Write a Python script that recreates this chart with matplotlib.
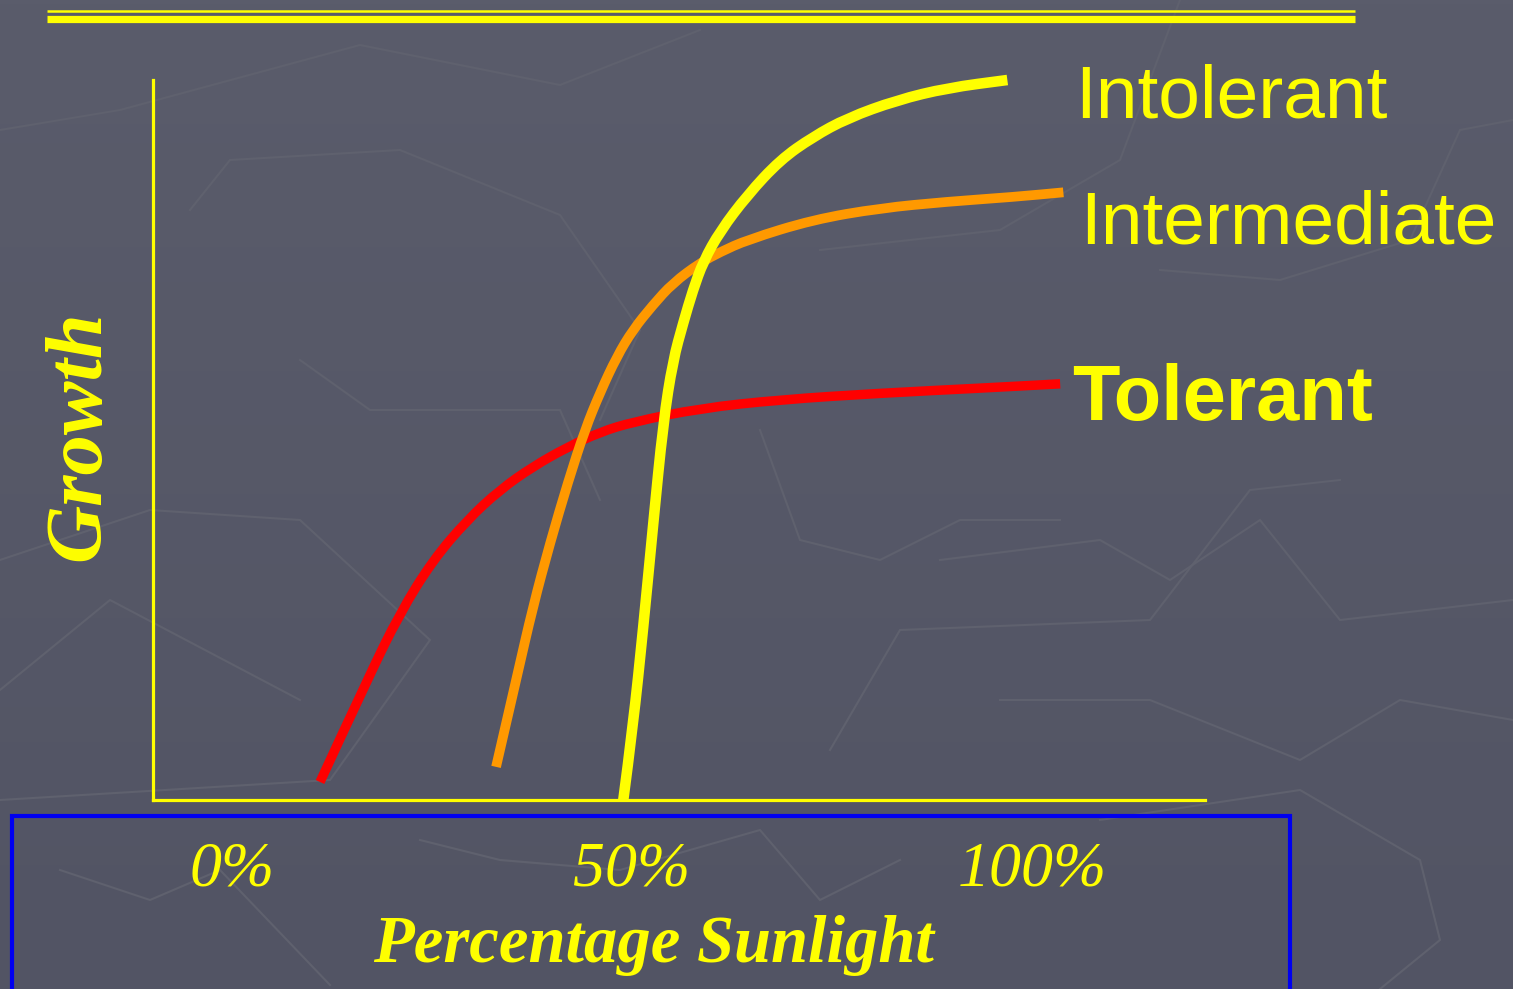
import numpy as np
import matplotlib
matplotlib.use("Agg")
import matplotlib.pyplot as plt
from matplotlib.lines import Line2D
from matplotlib.patches import Rectangle, PathPatch
from matplotlib.path import Path

# ---- data: percentage sunlight (x) vs relative growth (y) ----
tolerant_x = [11.0, 16.9, 21.0, 25.1, 29.4, 33.5, 37.6, 41.9, 46.0, 50.1, 58.5, 68.5, 81.0, 93.5, 103.5]
tolerant_y = [2.5, 16.7, 26.0, 33.3, 38.9, 43.1, 46.3, 49.0, 51.1, 52.5, 54.4, 55.6, 56.5, 57.2, 57.8]

intermediate_x = [33.0, 35.6, 37.6, 39.75, 42.0, 44.1, 46.0, 48.1, 50.1, 52.6, 55.1, 58.5, 61.0, 64.4,
                  72.6, 81.0, 89.4, 97.6, 103.9]
intermediate_y = [4.6, 17.1, 26.8, 35.7, 44.2, 51.4, 56.6, 61.6, 65.3, 68.75, 71.8, 74.6, 76.1, 77.8,
                  80.6, 82.2, 83.1, 83.75, 84.4]

intolerant_x = [48.9, 50.1, 51.4, 52.6, 53.9, 55.1, 56.4, 57.6, 58.9, 61.0, 64.4, 68.5, 72.6, 76.9,
                83.1, 89.4, 96.9]
intolerant_y = [0.0, 10.1, 24.0, 37.9, 52.5, 61.0, 66.3, 70.8, 74.8, 79.0, 84.0, 88.9, 92.1, 94.7,
                97.2, 98.9, 100.0]

tick_values = [0, 50, 100]
tick_labels = ["0%", "50%", "100%"]
series_names = ["Intolerant", "Intermediate", "Tolerant"]

W, H = 1513, 989
YELLOW = "#ffff00"
BG_TOP = "#5a5c6b"
BG_BOT = "#525464"


def fx(px):
    return px / W


def fy(py):
    return 1 - py / H


def smooth_path(xs, ys):
    """Quadratic Bezier path that uses the readings as control points."""
    pts = list(zip(xs, ys))
    verts = [pts[0]]
    codes = [Path.MOVETO]
    for i in range(1, len(pts) - 1):
        mid = ((pts[i][0] + pts[i + 1][0]) / 2, (pts[i][1] + pts[i + 1][1]) / 2)
        verts += [pts[i], mid]
        codes += [Path.CURVE3, Path.CURVE3]
    verts.append(pts[-1])
    codes.append(Path.LINETO)
    return Path(verts, codes)


fig = plt.figure(figsize=(W / 100, H / 100), dpi=100)
fig.patch.set_facecolor(BG_TOP)

# background gradient
bg = fig.add_axes([0, 0, 1, 1], zorder=-10)
bg.set_axis_off()
top = np.array(matplotlib.colors.to_rgb(BG_TOP))
bot = np.array(matplotlib.colors.to_rgb(BG_BOT))
t = np.linspace(0, 1, 256)[:, None, None]
grad = top * (1 - t) + bot * t
grad = np.repeat(grad, 2, axis=1)
bg.imshow(grad, aspect="auto", extent=[0, 1, 0, 1], origin="upper")
bg.set_xlim(0, 1)
bg.set_ylim(0, 1)

# faint decorative outline pattern
deco_color = "#5f616e"
deco_paths = [
    [(0, 130), (120, 110), (360, 45), (560, 85), (700, 30)],
    [(190, 210), (230, 160), (400, 150), (560, 215), (640, 330), (600, 420)],
    [(300, 360), (370, 410), (560, 410), (600, 500)],
    [(0, 560), (150, 510), (300, 520), (430, 640), (330, 780), (0, 800)],
    [(0, 690), (110, 600), (300, 700)],
    [(830, 750), (900, 630), (1150, 620), (1250, 490), (1340, 480)],
    [(820, 250), (1000, 230), (1120, 160), (1180, 0)],
    [(1160, 270), (1280, 280), (1410, 240), (1460, 130), (1513, 120)],
    [(1000, 700), (1150, 700), (1300, 760), (1400, 700), (1513, 720)],
    [(1100, 820), (1300, 790), (1420, 860), (1440, 940), (1380, 989)],
    [(940, 560), (1100, 540), (1170, 580), (1260, 520), (1340, 620), (1513, 600)],
    [(60, 870), (150, 900), (220, 870), (330, 985)],
    [(420, 840), (500, 860), (620, 870), (760, 830), (820, 900), (900, 860)],
    [(760, 430), (800, 540), (880, 560), (960, 520), (1060, 520)],
]
for path in deco_paths:
    xs = [fx(p[0]) for p in path]
    ys = [fy(p[1]) for p in path]
    bg.plot(xs, ys, color=deco_color, lw=1.5, solid_joinstyle="miter")

# double rule at the top
fig.add_artist(Line2D([fx(47), fx(1355)], [fy(11.3), fy(11.3)], color=YELLOW,
                      lw=1.8, solid_capstyle="butt"))
fig.add_artist(Line2D([fx(47), fx(1355)], [fy(18.5), fy(18.5)], color=YELLOW,
                      lw=5.2, solid_capstyle="butt"))

# blue frame around the x-axis caption
fig.add_artist(Rectangle((fx(12), fy(1000)), fx(1290) - fx(12), fy(816) - fy(1000),
                         fill=False, edgecolor="#0000f0", lw=3.0))

# main plotting area
ax = fig.add_axes([fx(153), fy(800), fx(1205) - fx(153), fy(80) - fy(800)])
ax.set_facecolor("none")
ax.set_xlim(-9.875, 121.6)
ax.set_ylim(0, 100)
for side in ["top", "right"]:
    ax.spines[side].set_visible(False)
for side in ["left", "bottom"]:
    ax.spines[side].set_color(YELLOW)
    ax.spines[side].set_linewidth(2.3)

series = [
    (tolerant_x, tolerant_y, "#ff0000", 6.8, 3),
    (intermediate_x, intermediate_y, "#ff9900", 7.0, 4),
    (intolerant_x, intolerant_y, YELLOW, 7.6, 5),
]
for xs, ys, color, lw, z in series:
    patch = PathPatch(smooth_path(xs, ys), fill=False, edgecolor=color, lw=lw,
                      capstyle="butt", joinstyle="round", zorder=z, clip_on=False)
    ax.add_patch(patch)

ax.set_yticks([])
ax.set_xticks(tick_values)
ax.set_xticklabels(tick_labels, family="Liberation Serif", style="italic",
                   fontsize=46, color=YELLOW)
ax.tick_params(axis="x", length=0, pad=30)

# axis captions
fig.text(fx(653), fy(962), "Percentage Sunlight", family="Liberation Serif",
         style="italic", weight="bold", fontsize=48, color=YELLOW,
         ha="center", va="baseline")
fig.text(fx(80), fy(436), "Growth", family="Liberation Serif",
         style="italic", weight="bold", fontsize=58, color=YELLOW,
         ha="center", va="center", rotation=90)

# series names at the right end of each curve
fig.text(fx(1075), fy(117), series_names[0], family="Liberation Sans",
         fontsize=54, color=YELLOW, ha="left", va="baseline")
fig.text(fx(1080), fy(244), series_names[1], family="Liberation Sans",
         fontsize=54, color=YELLOW, ha="left", va="baseline")
fig.text(fx(1072), fy(420), series_names[2], family="Liberation Sans",
         weight="bold", fontsize=56, color=YELLOW, ha="left", va="baseline")

fig.savefig("out.png", dpi=100, facecolor=fig.get_facecolor())
